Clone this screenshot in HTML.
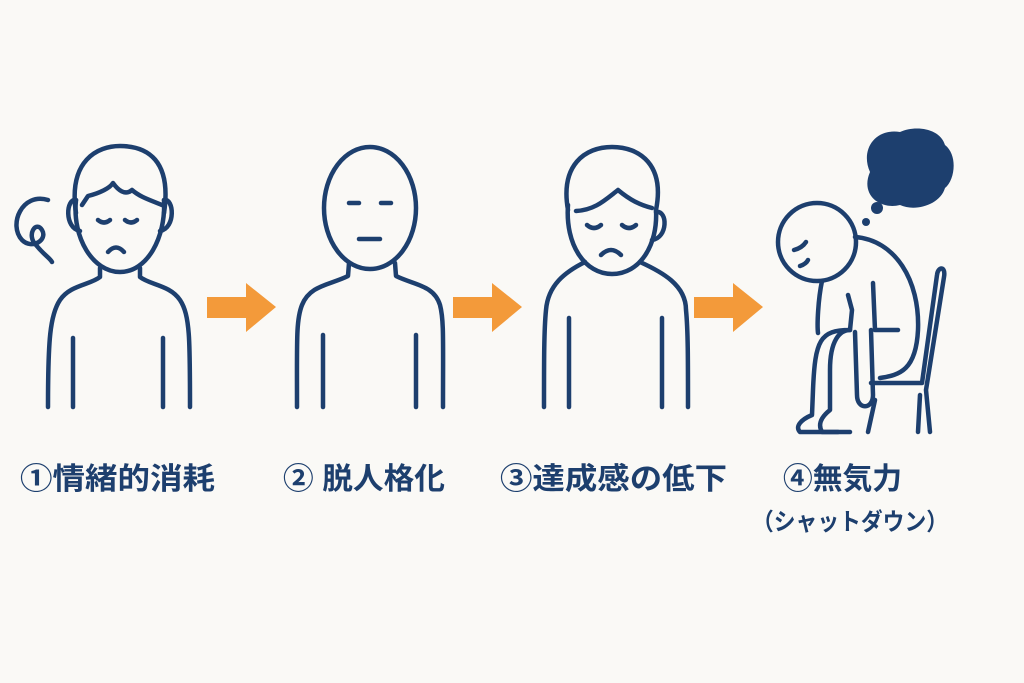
<!DOCTYPE html>
<html><head><meta charset="utf-8"><style>
html,body{margin:0;padding:0;background:#faf9f6;}
svg{display:block}
text{font-family:"Liberation Sans","Noto Sans CJK JP",sans-serif;font-weight:bold;fill:#1d3f6e}
</style></head><body>
<svg width="1024" height="683" viewBox="0 0 1024 683">
<rect width="1024" height="683" fill="#faf9f6"/>
<g fill="none" stroke="#1d3f6e" stroke-width="4.5" stroke-linecap="round" stroke-linejoin="round">
<!-- fig1 -->
<path d="M76,213 C68,160 98,146 120,146 C147,146 172,160 164,213"/>
<path d="M76,200 C72,238 93,272 120,272 C147,272 166,238 164,200"/>
<path d="M76,200 C66,198 64,228 80,231"/><path d="M164,200 C174,198 176,228 160,231"/>
<path d="M82,205 L88,196 C100,193 110,188 113,183 C118,190 125,196 132,190 C140,197 150,200 162,205"/>
<path d="M98,220 q6,5 12,0"/><path d="M125,220 q6,5 12,0"/>
<path d="M108,252 q8,-9 16,0"/>
<path d="M100,268 L100,277 C90,285 70,285 60,300 C50,315 48,340 48,407"/>
<path d="M140,268 L140,277 C150,285 170,285 180,300 C190,315 190,340 190,407"/>
<path d="M73,338 V407"/><path d="M163,338 V407"/>
<path d="M48,200 C22,192 8,225 22,240 C32,250 48,240 42,230 C36,220 26,235 36,245 C44,255 50,258 52,262"/>
<!-- fig2 -->
<ellipse cx="370" cy="208" rx="46" ry="61"/>
<path d="M349,203 h10"/><path d="M381,203 h10"/><path d="M359,239 h21"/>
<path d="M349,263 L348,276 C330,285 310,285 302,305 C296,320 297,340 297,407"/>
<path d="M395,263 L396,276 C414,285 434,285 440,305 C444,320 443,340 443,407"/>
<path d="M323,335 V407"/><path d="M416,335 V407"/>
<!-- fig3 -->
<path d="M568,210 C560,165 585,147 612,147 C640,147 665,165 656,210"/>
<path d="M568,205 C565,245 585,274 612,274 C640,274 658,245 656,210"/>
<path d="M656,212 C668,210 668,238 652,240"/>
<path d="M576,211 C595,210 605,200 618,190 C630,200 640,205 652,208"/>
<path d="M587,225 q7,6 14,0"/><path d="M622,225 q7,6 14,0"/>
<path d="M601,255 q10,-10 20,0"/>
<path d="M585,262 C565,272 548,285 546,310 C544,330 544,360 544,407"/>
<path d="M640,262 C662,272 686,285 686,310 C688,330 688,360 688,407"/>
<path d="M569,318 V407"/><path d="M662,318 V407"/>
<!-- fig4 -->
<circle cx="817" cy="242" r="39"/>
<path d="M794,250 q8,-2 12,-8"/><path d="M800,266 q6,-2 8,-6"/>
<path d="M855,237 C895,240 920,280 918,330 C916,370 900,375 880,378"/>
<path d="M822,281 C818,300 817,325 818,333"/>
<path d="M873,283 L875,330 L898,330"/>
<path d="M848,295 L852,310 L850,330 C820,330 815,340 813,390 L812,415 C800,420 795,427 800,432 L838,432"/>
<path d="M850,330 C840,330 830,340 830,370 L830,410 C820,418 818,425 822,432 L850,432"/>
<path d="M855,332 L857,395 C857,410 873,410 873,395 L871,330"/>
<path d="M871,383 L922,383 L937,275 C938,266 946,266 944,277 L926,390 L930,432 M920,395 L918,432"/>
<path d="M875,400 L868,432"/>
</g>
<path d="M870,172 C860,150 875,128 900,132 C915,125 940,128 945,145 C958,155 955,180 945,188 C940,205 915,212 900,205 C880,210 860,195 870,172Z" fill="#1d3f6e"/>
<circle cx="877" cy="208" r="6" fill="#1d3f6e"/><circle cx="866" cy="222" r="4" fill="#1d3f6e"/>
<!-- arrows -->
<g fill="#f39a3a">
<path d="M207,297 H246 V283 L276,307 L246,332 V318 H207Z"/>
<path d="M453,297 H492 V283 L522,307 L492,332 V318 H453Z"/>
<path d="M694,297 H733 V283 L763,307 L733,332 V318 H694Z"/>
</g>
<text x="20" y="489" font-size="30" textLength="195" lengthAdjust="spacingAndGlyphs">①情緒的消耗</text>
<text x="283" y="489" font-size="30" textLength="162" lengthAdjust="spacingAndGlyphs">② 脱人格化</text>
<text x="500" y="489" font-size="30" textLength="227" lengthAdjust="spacingAndGlyphs">③達成感の低下</text>
<text x="783" y="489" font-size="30" textLength="119" lengthAdjust="spacingAndGlyphs">④無気力</text>
<text x="752" y="530" font-size="24" textLength="196" lengthAdjust="spacingAndGlyphs">（シャットダウン）</text>
</svg>
</body></html>
